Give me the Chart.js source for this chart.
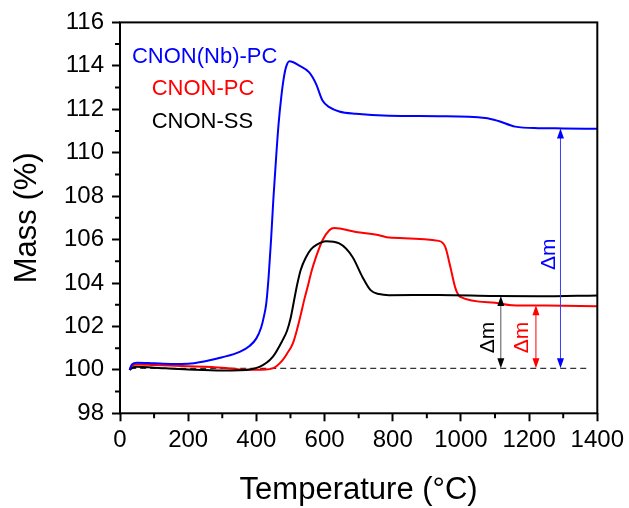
<!DOCTYPE html>
<html>
<head>
<meta charset="utf-8">
<script src="https://cdn.jsdelivr.net/npm/chart.js@4/dist/chart.umd.min.js"></script>
<style>
  html, body { margin: 0; padding: 0; background: #fff; }
  canvas { display: block; }
</style>
</head>
<body>
<canvas id="tgaChart" width="629" height="508"></canvas>
<script>
// ─── TGA mass curves (temperature in °C, mass in %) ───

const nbTemp = [28, 35, 50, 100, 150, 200, 250, 300, 351, 380, 400, 414, 422, 429, 436, 443, 450, 458, 465, 473, 480, 487, 497, 526, 555, 575, 594, 614, 643, 692, 789, 935, 1071, 1110, 1159, 1227, 1300, 1400];
const nbMass = [100.0, 100.25, 100.33, 100.3, 100.27, 100.28, 100.4, 100.58, 100.83, 101.1, 101.45, 101.95, 102.45, 103.06, 104.3, 105.97, 107.9, 109.8, 111.3, 112.56, 113.4, 113.94, 114.21, 114.01, 113.7, 113.17, 112.4, 112.1, 111.9, 111.79, 111.7, 111.68, 111.6, 111.46, 111.2, 111.13, 111.12, 111.1];

const pcTemp = [28, 35, 50, 100, 200, 300, 351, 400, 448, 477, 490, 507, 520, 531, 540, 550, 562, 575, 594, 614, 628, 692, 760, 789, 935, 954, 969, 984, 998, 1100, 1149, 1250, 1400];
const pcMass = [100.0, 100.18, 100.25, 100.22, 100.17, 100.1, 100.02, 100.0, 100.07, 100.45, 100.75, 101.22, 101.9, 102.6, 103.2, 103.8, 104.55, 105.2, 105.97, 106.43, 106.53, 106.35, 106.2, 106.09, 105.94, 105.66, 104.74, 103.75, 103.36, 103.09, 102.98, 102.96, 102.93];

const ssTemp = [28, 40, 50, 100, 200, 300, 351, 409, 448, 477, 490, 500, 510, 520, 530, 546, 560, 575, 604, 643, 682, 711, 735, 760, 789, 935, 1100, 1227, 1400];
const ssMass = [100.0, 100.12, 100.14, 100.1, 100.02, 99.97, 99.98, 100.14, 100.6, 101.37, 101.8, 102.35, 103.15, 103.95, 104.6, 105.2, 105.55, 105.74, 105.92, 105.82, 105.2, 104.28, 103.67, 103.49, 103.44, 103.45, 103.4, 103.39, 103.43];

const seriesNames = ['CNON(Nb)-PC', 'CNON-PC', 'CNON-SS'];
const seriesColors = ['#0000ff', '#ff0000', '#000000'];

// reference level and the Δm double arrows (T, end mass)
const baseMass = 100.07;
const baseRange = [30, 1378];
const deltaT = [1117, 1220, 1292];
const deltaTop = [103.4, 102.97, 111.12];
const deltaColors = ['#000000', '#ff0000', '#0000ff'];
const deltaShaft = ['#555555', '#ff0000', '#3b3bff'];

const xTicks = [0, 200, 400, 600, 800, 1000, 1200, 1400];
const yTicks = [98, 100, 102, 104, 106, 108, 110, 112, 114, 116];

const FONT = "'Liberation Sans', Arial, sans-serif";

// where the coloured names and the Δm texts sit, in data units
const nameSpots = [[35, 114.43], [93, 112.94], [93, 111.41]];
const deltaLabelSpots = [[1081, 101.49], [1181, 101.49], [1258, 105.32]];

function pairs(xs, ys) {
    return xs.map((x, i) => ({ x: x, y: ys[i] }));
}

const curveStyle = (color) => ({
    borderColor: color,
    borderWidth: 2,
    pointRadius: 0,
    cubicInterpolationMode: 'monotone',
    fill: false
});

// frame, minor ticks, arrows and texts drawn on top of the chart
const overlay = {
    id: 'overlay',
    afterDraw(chart) {
        const { ctx, chartArea: a, scales: { x, y } } = chart;
        ctx.save();

        ctx.strokeStyle = '#000';
        ctx.lineWidth = 2;
        ctx.strokeRect(a.left, a.top, a.right - a.left, a.bottom - a.top);

        // minor ticks
        ctx.beginPath();
        for (let t = 100; t < 1400; t += 200) {
            const px = x.getPixelForValue(t);
            ctx.moveTo(px, a.bottom);
            ctx.lineTo(px, a.bottom + 5);
        }
        for (let m = 99; m < 116; m += 2) {
            const py = y.getPixelForValue(m);
            ctx.moveTo(a.left, py);
            ctx.lineTo(a.left - 5, py);
        }
        ctx.stroke();

        // Δm double arrows
        deltaT.forEach((t, i) => {
            const px = x.getPixelForValue(t);
            const yTop = y.getPixelForValue(deltaTop[i]);
            const yBot = y.getPixelForValue(baseMass);
            ctx.strokeStyle = deltaShaft[i];
            ctx.lineWidth = 1;
            ctx.beginPath();
            ctx.moveTo(px, yTop + 8);
            ctx.lineTo(px, yBot - 8);
            ctx.stroke();
            ctx.fillStyle = deltaColors[i];
            ctx.beginPath();
            ctx.moveTo(px, yTop);
            ctx.lineTo(px - 3.5, yTop + 10);
            ctx.lineTo(px + 3.5, yTop + 10);
            ctx.closePath();
            ctx.moveTo(px, yBot);
            ctx.lineTo(px - 3.5, yBot - 10);
            ctx.lineTo(px + 3.5, yBot - 10);
            ctx.closePath();
            ctx.fill();
        });

        ctx.font = '21px ' + FONT;
        ctx.textAlign = 'center';
        ctx.textBaseline = 'middle';
        deltaLabelSpots.forEach(([t, m], i) => {
            ctx.save();
            ctx.translate(x.getPixelForValue(t), y.getPixelForValue(m));
            ctx.rotate(-Math.PI / 2);
            ctx.fillStyle = deltaColors[i];
            ctx.fillText('Δm', 0, 0);
            ctx.restore();
        });

        // series names
        ctx.font = '22px ' + FONT;
        ctx.textAlign = 'left';
        nameSpots.forEach(([t, m], i) => {
            ctx.fillStyle = seriesColors[i];
            ctx.fillText(seriesNames[i], x.getPixelForValue(t), y.getPixelForValue(m));
        });

        ctx.restore();
    }
};

const tickFont = { family: FONT, size: 24 };

new Chart(document.getElementById('tgaChart').getContext('2d'), {
    type: 'line',
    data: {
        datasets: [
            { label: seriesNames[0], data: pairs(nbTemp, nbMass), ...curveStyle(seriesColors[0]) },
            { label: seriesNames[2], data: pairs(ssTemp, ssMass), ...curveStyle(seriesColors[2]) },
            { label: seriesNames[1], data: pairs(pcTemp, pcMass), ...curveStyle(seriesColors[1]) },
            {
                label: 'base',
                data: [{ x: baseRange[0], y: baseMass }, { x: baseRange[1], y: baseMass }],
                borderColor: '#333',
                borderWidth: 1.3,
                borderDash: [6, 4],
                pointRadius: 0
            }
        ]
    },
    options: {
        responsive: false,
        animation: false,
        layout: { padding: { top: 22, right: 30, left: 0, bottom: 0 } },
        plugins: {
            legend: { display: false },
            tooltip: { enabled: false }
        },
        scales: {
            x: {
                type: 'linear',
                min: 0,
                max: 1400,
                afterBuildTicks: (s) => { s.ticks = xTicks.map(v => ({ value: v })); },
                afterFit: (s) => { s.height = 94.7; },
                ticks: {
                    color: '#000', font: tickFont, padding: 5, maxRotation: 0, autoSkip: false,
                    callback: (v) => String(v)
                },
                grid: { drawOnChartArea: false, drawTicks: true, tickLength: 8, tickWidth: 2, tickColor: '#000' },
                border: { display: false },
                title: {
                    display: true,
                    text: 'Temperature (°C)',
                    color: '#000',
                    font: { family: FONT, size: 31, lineHeight: 1.15 },
                    padding: { top: 0, bottom: 0 }
                }
            },
            y: {
                min: 98,
                max: 116,
                afterBuildTicks: (s) => { s.ticks = yTicks.map(v => ({ value: v })); },
                afterFit: (s) => { s.width = 120; },
                ticks: { color: '#000', font: tickFont, padding: 8, autoSkip: false, callback: (v) => String(v) },
                grid: { drawOnChartArea: false, drawTicks: true, tickLength: 8, tickWidth: 2, tickColor: '#000' },
                border: { display: false },
                title: {
                    display: true,
                    text: 'Mass (%)',
                    color: '#000',
                    font: { family: FONT, size: 31, lineHeight: 1.15 },
                    padding: { top: 10, bottom: 0 }
                }
            }
        }
    },
    plugins: [overlay]
});
</script>
</body>
</html>
